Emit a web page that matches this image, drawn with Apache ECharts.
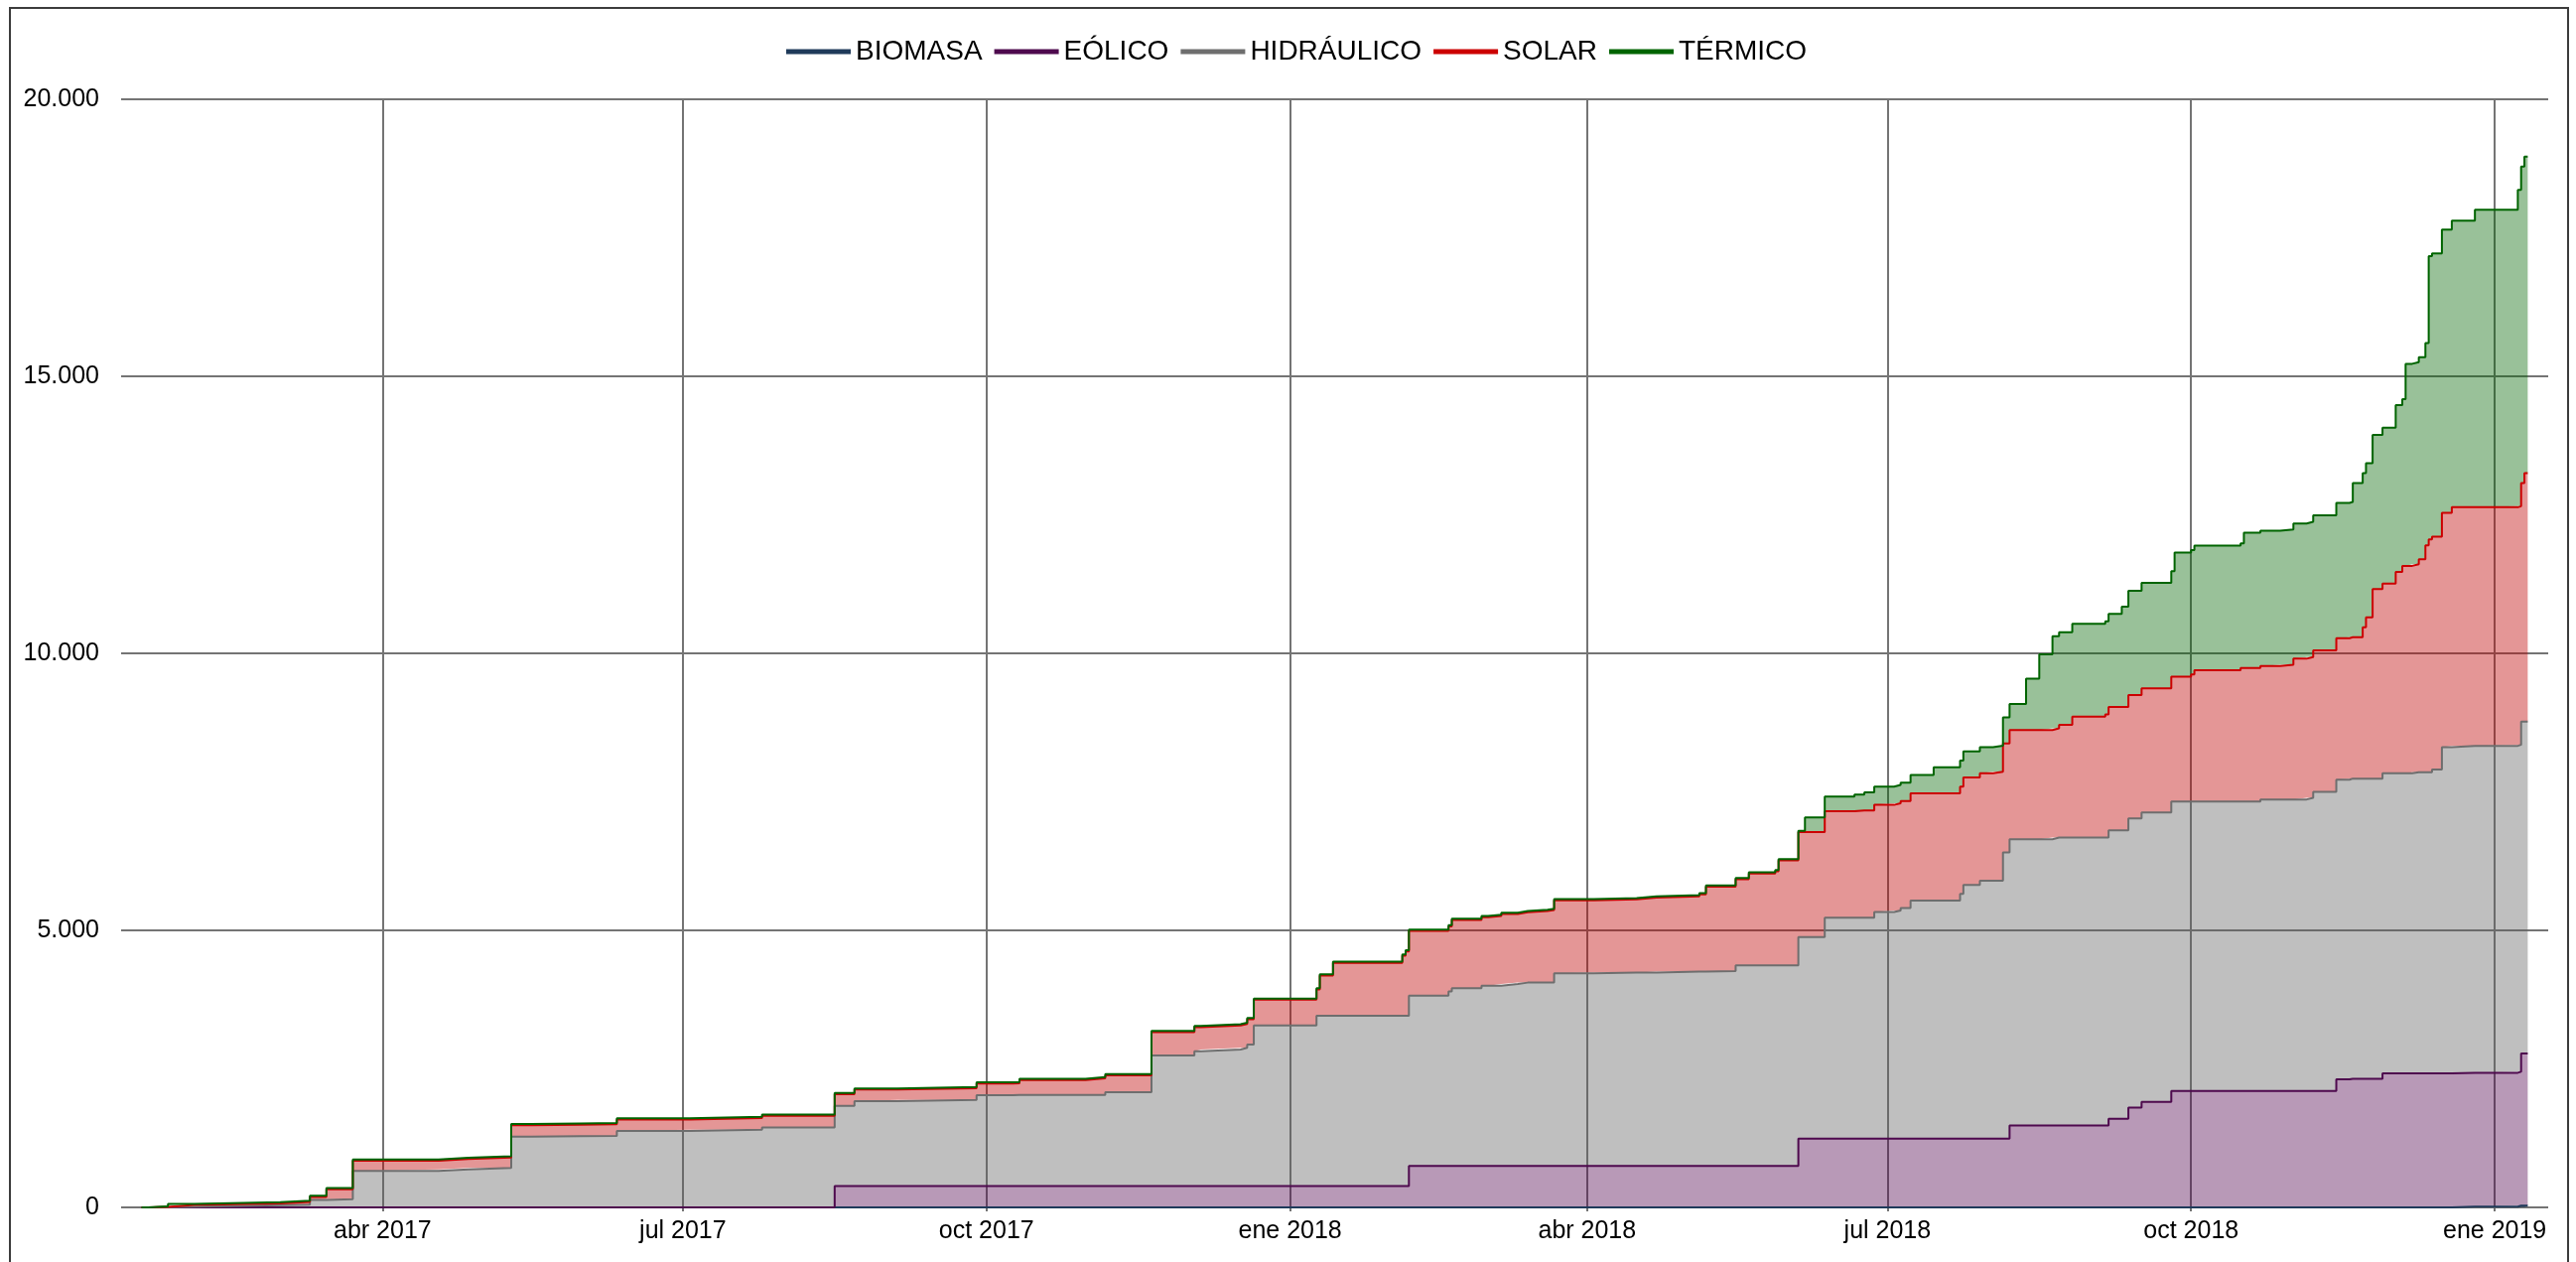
<!DOCTYPE html>
<html>
<head>
<meta charset="utf-8">
<script src="https://cdn.jsdelivr.net/npm/echarts@6/dist/echarts.min.js"></script>
<style>
  html, body { margin: 0; padding: 0; background: #ffffff; }
  #chart { width: 2595px; height: 1271px; }
</style>
</head>
<body>
<div id="chart"></div>
<script>
// Potencia instalada acumulada por tecnología (MW), fechas de alta
const fechas = [
  '2017-01-18','2017-01-20','2017-01-26','2017-02-03','2017-03-01','2017-03-10','2017-03-15','2017-03-23','2017-04-18','2017-04-27',
  '2017-05-10','2017-05-16','2017-05-31','2017-06-11','2017-07-03','2017-07-25','2017-08-16','2017-08-22','2017-09-04','2017-09-28',
  '2017-10-09','2017-10-11','2017-10-31','2017-11-06','2017-11-20','2017-12-03','2017-12-05','2017-12-17','2017-12-19','2017-12-21',
  '2018-01-09','2018-01-10','2018-01-14','2018-02-04','2018-02-05','2018-02-06','2018-02-18','2018-02-19','2018-02-28','2018-03-02',
  '2018-03-06','2018-03-11','2018-03-14','2018-03-20','2018-03-22','2018-04-03','2018-04-16','2018-04-22','2018-05-05','2018-05-07',
  '2018-05-16','2018-05-20','2018-05-28','2018-05-29','2018-06-04','2018-06-06','2018-06-12','2018-06-21','2018-06-24','2018-06-27',
  '2018-07-03','2018-07-05','2018-07-08','2018-07-15','2018-07-23','2018-07-24','2018-07-29','2018-08-02','2018-08-05','2018-08-07',
  '2018-08-12','2018-08-16','2018-08-20','2018-08-22','2018-08-26','2018-09-05','2018-09-06','2018-09-10','2018-09-12','2018-09-16',
  '2018-09-25','2018-09-26','2018-10-01','2018-10-02','2018-10-16','2018-10-17','2018-10-22','2018-10-28','2018-11-01','2018-11-05',
  '2018-11-07','2018-11-14','2018-11-18','2018-11-19','2018-11-22','2018-11-23','2018-11-25','2018-11-28','2018-12-02','2018-12-04',
  '2018-12-05','2018-12-07','2018-12-09','2018-12-11','2018-12-12','2018-12-13','2018-12-16','2018-12-19','2018-12-26','2019-01-08',
  '2019-01-09','2019-01-10','2019-01-11'
];

const biomasa = [
  0,0,0,0,0,0,0,0,0,0,
  0,0,0,0,0,0,0,0,0,0,
  0,0,0,0,0,0,0,0,0,0,
  0,0,0,0,0,0,0,0,0,0,
  0,0,0,0,0,0,0,0,0,0,
  0,0,0,0,0,0,0,0,0,0,
  0,0,0,0,0,0,0,0,0,0,
  0,0,0,0,0,0,0,0,0,0,
  0,0,0,0,0,0,0,0,0,0,
  0,0,0,0,0,0,0,0,0,0,
  0,0,0,0,0,0,0,12,12,30,
  30,30,30
];

const eolico = [
  0,0,0,0,0,0,0,0,0,0,
  0,0,0,0,0,0,385,385,385,385,
  385,385,385,385,385,385,385,385,385,385,
  385,385,385,385,385,746,746,746,746,746,
  746,746,746,746,746,746,746,746,746,746,
  746,746,746,746,1240,1240,1240,1240,1240,1240,
  1240,1240,1240,1240,1240,1240,1240,1240,1240,1477,
  1477,1477,1477,1477,1477,1477,1600,1600,1802,1906,
  2102,2102,2102,2102,2102,2102,2102,2102,2102,2102,
  2102,2310,2322,2322,2322,2322,2322,2418,2418,2418,
  2418,2418,2418,2418,2418,2418,2418,2418,2418,2418,
  2747,2747,2747
];

const hidraulico = [
  0,5,15,39,51,135,146,660,684,714,
  1277,1288,1290,1378,1402,1444,1448,1531,1555,1640,
  1646,1646,1646,1695,2356,2435,2466,2495,2554,2901,
  3074,3074,3074,3074,3074,3074,3150,3210,3257,3257,
  3287,3311,3311,3311,3479,3491,3491,3509,3509,3521,
  3624,3624,3624,3624,3641,3641,3988,3988,3988,4090,
  4120,4161,4299,4299,4419,4580,4658,4658,5166,5168,
  5168,5168,5198,5198,5198,5198,5207,5207,5220,5220,
  5225,5225,5225,5225,5225,5225,5261,5261,5261,5290,
  5398,5411,5417,5417,5417,5417,5417,5419,5419,5419,
  5419,5435,5435,5435,5435,5483,5889,5901,5901,5901,
  5991,5991,5991
];

const solar = [
  0,5,30,32,49,55,182,182,188,188,
  205,206,210,210,210,210,210,210,210,210,
  210,269,300,305,421,432,432,432,457,462,
  475,726,953,1084,1162,1170,1174,1233,1233,1258,
  1264,1270,1294,1312,1317,1323,1353,1359,1395,1520,
  1553,1655,1697,1895,1895,1895,1922,1935,1935,1935,
  1935,1935,1935,1935,1935,1940,1940,1966,1966,1970,
  1970,1970,1973,2033,2182,2224,2224,2224,2224,2244,
  2253,2253,2290,2367,2409,2409,2409,2433,2541,2542,
  2553,2553,2553,2553,2733,2912,3421,3421,3634,3742,
  3742,3756,3845,4096,4204,4204,4228,4306,4306,4306,
  4306,4485,4485
];

const termico = [
  0,10,18,22,22,22,22,22,22,22,
  22,22,22,22,22,22,22,22,22,22,
  22,22,22,22,22,22,22,22,22,22,
  22,22,22,22,22,22,22,22,22,22,
  22,22,22,22,22,22,22,22,22,22,
  22,22,22,22,22,264,264,287,329,329,
  329,329,329,469,469,470,470,470,470,470,
  930,1367,1662,1674,1674,1680,1680,1812,1884,1902,
  1902,2238,2249,2249,2249,2440,2440,2440,2440,2440,
  2440,2440,2440,2782,2782,2782,2782,2814,3008,3008,
  3647,3647,3647,3653,5112,5112,5112,5172,5369,5710,
  5710,5710,5710
];

// Marcas del eje temporal (inicio de cada trimestre) y nombres de mes
const trimestres = ['2017-04-01','2017-07-01','2017-10-01','2018-01-01','2018-04-01','2018-07-01','2018-10-01','2019-01-01'];
const meses = ['ene','feb','mar','abr','may','jun','jul','ago','sep','oct','nov','dic'];
const nombres = ['BIOMASA','EÓLICO','HIDRÁULICO','SOLAR','TÉRMICO'];
const valores = [biomasa, eolico, hidraulico, solar, termico];

// Estilo de cada capa
const lineas = ['#1f3a5a', '#4e0a4e', '#6e6e6e', '#cc0000', '#006400'];
const rellenos = ['rgba(31,58,90,0.4)', 'rgba(78,0,74,0.4)', 'rgba(96,96,96,0.4)', 'rgba(190,0,0,0.41)', 'rgba(0,100,0,0.4)'];

const fuente = "'Liberation Sans', Arial, Helvetica, sans-serif";
const gris = '#747474';

// 'AAAA-MM-DD' -> milisegundos (hora local)
function instante(s) {
  const p = s.split('-');
  return new Date(+p[0], +p[1] - 1, +p[2]).getTime();
}

function miles(v) {
  return String(v).replace(/\B(?=(\d{3})+(?!\d))/g, '.');
}

const marcas = trimestres.map(instante);

const chart = echarts.init(document.getElementById('chart'), null, { renderer: 'canvas' });

chart.setOption({
  animation: false,
  backgroundColor: '#ffffff',
  textStyle: { fontFamily: fuente },
  legend: {
    data: nombres,
    left: 792,
    top: 38,
    padding: 0,
    icon: 'rect',
    itemWidth: 65,
    itemHeight: 5,
    itemGap: 12,
    itemStyle: { borderWidth: 0 },
    textStyle: { fontSize: 28, color: '#000000', fontFamily: fuente },
    selectedMode: false
  },
  grid: { left: 122, right: 28, top: 100, bottom: 55, containLabel: false },
  xAxis: {
    type: 'value',
    min: new Date(2017, 0, 11, 19).getTime(),
    max: new Date(2019, 0, 17, 5).getTime(),
    axisLine: { show: false },
    axisTick: { show: true, customValues: marcas, length: 4, lineStyle: { color: gris, width: 2 } },
    axisLabel: {
      customValues: marcas,
      fontSize: 25,
      color: '#000000',
      fontFamily: fuente,
      margin: 12,
      formatter: function (v) {
        const d = new Date(v);
        return meses[d.getMonth()] + ' ' + d.getFullYear();
      }
    },
    splitLine: { show: true, lineStyle: { color: gris, width: 2 } }
  },
  yAxis: {
    type: 'value',
    min: 0,
    max: 20000,
    interval: 5000,
    axisLine: { show: false },
    axisTick: { show: false },
    axisLabel: { fontSize: 25, color: '#000000', fontFamily: fuente, margin: 22, formatter: miles },
    splitLine: { show: true, lineStyle: { color: gris, width: 2 } }
  },
  series: nombres.map(function (nombre, k) {
    return {
      name: nombre,
      type: 'line',
      stack: 'total',
      step: 'end',
      symbol: 'none',
      showSymbol: false,
      color: lineas[k],
      lineStyle: { width: 2, color: lineas[k] },
      itemStyle: { color: lineas[k] },
      areaStyle: { color: rellenos[k], opacity: 1 },
      emphasis: { disabled: true },
      // valor primero: la dimensión apilada es la de MW
      encode: { x: 1, y: 0 },
      data: fechas.map(function (f, i) { return [valores[k][i], instante(f)]; })
    };
  }),
  graphic: [{
    type: 'rect',
    silent: true,
    shape: { x: 10, y: 8, width: 2577, height: 1300 },
    style: { fill: 'none', stroke: '#3c3c3c', lineWidth: 2 }
  }]
});
</script>
</body>
</html>
